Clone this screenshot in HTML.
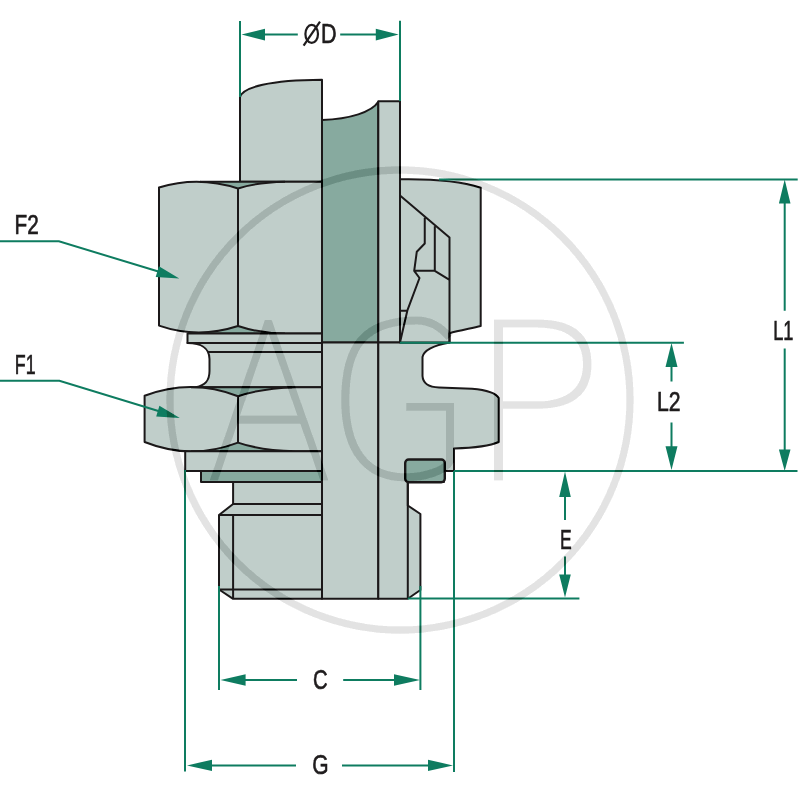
<!DOCTYPE html>
<html><head><meta charset="utf-8">
<style>
html,body{margin:0;padding:0;background:#fff;width:800px;height:800px;overflow:hidden}
svg{display:block}
text{font-family:"Liberation Sans",sans-serif;fill:#1f1c1d}
</style></head><body>
<svg width="800" height="800" viewBox="0 0 800 800">
<g stroke="#1b1819" stroke-width="2" stroke-linejoin="round" fill="#c0ceca">
 <!-- pipe -->
 <path d="M240,181.7 L240,97 C243,87 270,80 322,79.7 L322,181.7 Z"/>
 <path fill="#87aa9f" d="M322,120 C350,119 372,112 378.3,101.8 L378.3,342.5 L322,342.5 Z"/>
 <path d="M378.3,101.3 L400,101.3 L400,342.5 L378.3,342.5 Z"/>
 <!-- F2 nut left -->
 <path fill="#87aa9f" stroke="none" d="M205,181.7 L285,181.7 L238,189 Z M205,333.6 L285,333.6 L238,326 Z"/>
 <path d="M159,325.6 L159,187.5 Q198,175.5 238,188.5 C250,184.5 265,182.2 285,181.7 L322,181.7 L322,333.6 L285,333.6 C265,333.2 250,330 238,326 Q198,339 159,325.6 Z"/>
 <path fill="none" d="M238,188.5 L238,326 M200,181.7 L285,181.7 M200,333.6 L285,333.6"/>
 <!-- washer A + groove -->
 <path d="M187.5,333.6 L322,333.6 L322,343 L187.5,343 Z"/>
 <path d="M187.5,343 C199,343 209.5,347 209.5,359 L209.5,371 C209.5,381 205,385.5 196,387.2 L322,387.2 L322,343 Z"/>
 <path fill="none" d="M208,352.1 L322,352.1"/>
 <!-- F1 nut left -->
 <path fill="#87aa9f" stroke="none" d="M205,387.2 L295,387.2 L238,396.5 Z M205,451.3 L295,451.3 L238,442.5 Z"/>
 <path d="M144.6,442 L144.6,395.8 Q191,378 238,396.2 C252,391.5 270,388 295,387.2 L322,387.2 L322,451.3 L295,451.3 C270,450.6 252,447.5 238,442.6 Q191,460.5 144.6,442 Z"/>
 <path fill="none" d="M238,396.2 L238,442.6 M191,387.2 L292,387.2 M191,451.3 L292,451.3"/>
 <!-- washer B, plate, body, thread -->
 <path d="M185.2,451.3 L322,451.3 L322,471 L185.2,471 Z"/>
 <path fill="#87aa9f" d="M201,471 L322,471 L322,482 L201,482 Z"/>
 <path d="M233.1,482 L322,482 L322,504 L233.1,504 Z"/>
 <path d="M233.1,504 L219,515 L219,589.5 L233.1,598.8 L322,598.8 L322,504 Z"/>
 <path fill="none" d="M219,515 L322,515 M219,589.5 L322,589.5 M233.1,515 L233.1,598.8"/>
 <!-- center lower column -->
 <path d="M322,342.5 L378.3,342.5 L378.3,598.8 L322,598.8 Z"/>
 <!-- right lower body -->
 <path d="M378.3,342.5 L449.5,342.5 C436,345 424,349 422.5,357 L422.5,376 C423,384 430,387.2 439,387.5 L472,388.7 C487,390 496,393 498.7,398 L498.7,442 C490,446 472,448 454,448.5 L454,471 L444,471 L444,482 L407.8,482 L407.8,505.5 L420.4,514 L420.4,590 L407.8,598.8 L378.3,598.8 Z"/>
 <path fill="none" d="M407.8,482 L407.8,598.8"/>
 <!-- F2 right section -->
 <path d="M400,179.3 C430,178.8 460,181 480.7,187.7 L480.7,326 C470,328.5 458,331 449.5,333.2 L449.5,342.5 L400,342.5 Z"/>
 <path fill="none" d="M400,195.5 L449.5,237.5 L449.5,342.5 M424.75,217.7 L424.75,243.5 L416.8,251.7 L414.2,270.8 L419.5,278 L407.3,310.7 L400,342.5 M434.8,226.2 L434.8,270.8 L414.2,270.8 M434.8,270.8 L449.5,279.8 M400,310.7 L406.75,310.7"/>
 <!-- O-ring -->
 <rect x="405.2" y="459.5" width="39.6" height="22.7" rx="3.5" fill="#87aa9f" stroke-width="2.4"/>
</g>
<!-- dimensions -->
<g stroke="#0e7c60" stroke-width="2" fill="none">
 <path d="M240,21 L240,97 M400,20.8 L400,101 M262,34.6 L297.8,34.6 M340.2,34.6 L378,34.6"/>
 <path d="M439,179.5 L797.7,179.5 M454,471 L797.5,471 M784.7,200 L784.7,310.8 M784.7,348.4 L784.7,452"/>
 <path d="M400,342.75 L683.9,342.75 M671.5,365 L671.5,381.5 M671.5,422.6 L671.5,448"/>
 <path d="M407.8,598.5 L579.4,598.5 M565,495 L565,520 M565,556.4 L565,576"/>
 <path d="M219,586 L219,690 M420.4,586 L420.4,690 M243,680 L297,680 M343.2,680 L396,680"/>
 <path d="M185,470 L185,771.6 M454,471 L454,772 M210,765.4 L296,765.4 M342,765.4 L430,765.4"/>
 <path d="M0,241.3 L58.9,241.3 L160,272 M0,380.75 L59.4,380.75 L160,411.5"/>
</g>
<g fill="#0e7c60">
 <path d="M241.5,34.6 L265,28.8 L265,40.4 Z M398.7,34.6 L375.8,28.8 L375.8,40.4 Z"/>
 <path d="M784.7,179.5 L778.9,203.5 L790.5,203.5 Z M784.7,471 L778.9,449.6 L790.5,449.6 Z"/>
 <path d="M671.5,343 L665.5,367 L677.5,367 Z M671.5,470 L665.5,446.3 L677.5,446.3 Z"/>
 <path d="M565,471.5 L559.2,497 L570.8,497 Z M565,597.6 L559.2,574.4 L570.8,574.4 Z"/>
 <path d="M220.5,680 L245.6,674.2 L245.6,685.8 Z M420,680 L394,674.2 L394,685.8 Z"/>
 <path d="M187,765.4 L212,759.7 L212,771.1 Z M453,765.4 L428,759.7 L428,771.1 Z"/>
 <path d="M179.3,278.4 L155.7,276.9 L158.9,266.3 Z M179.8,417.9 L156.2,416.4 L159.4,405.8 Z"/>
</g>
<g font-size="100" stroke="#1f1c1d" stroke-width="2.4" opacity="0.999">
 <text transform="translate(321.03,43.07) scale(0.2165,0.2717)">D</text>
 <text transform="translate(773.16,340.17) scale(0.1824,0.2759)">L1</text>
 <text transform="translate(657.06,411.18) scale(0.2122,0.2693)">L2</text>
 <text transform="translate(560.00,548.57) scale(0.1757,0.2787)">E</text>
 <text transform="translate(312.98,689.39) scale(0.2026,0.2793)">C</text>
 <text transform="translate(312.20,774.14) scale(0.2099,0.2759)">G</text>
 <text transform="translate(14.59,234.41) scale(0.2077,0.2797)">F2</text>
 <text transform="translate(14.79,373.66) scale(0.1786,0.2801)">F1</text>
</g>
<g fill="none" stroke="#1f1c1d" stroke-width="2.2">
 <ellipse cx="311.7" cy="33.9" rx="6.3" ry="9.0"/>
 <path d="M303.6,45.6 L320,21.6"/>
</g>
<!-- watermark -->
<defs><filter id="bl" x="-5%" y="-5%" width="110%" height="110%"><feGaussianBlur stdDeviation="0.45"/></filter></defs>
<g style="mix-blend-mode:difference" filter="url(#bl)">
 <circle cx="400" cy="400" r="230" fill="none" stroke="#1b1b1b" stroke-width="7.3"/>
 <path fill="#1b1b1b" d="M264.75,320 L271.7,320 L328.5,480.5 L320.3,480.5 L268.3,333.1 L217.9,480.5 L209.7,480.5 Z"/>
 <path fill="#1b1b1b" d="M238.5,415.6 L301,415.6 L301,423.7 L238.5,423.7 Z"/>
 <path fill="#1b1b1b" fill-rule="evenodd" d="M494,319.5 L537,319.5 C576,319.5 591.5,336 591.5,364 C591.5,392 576,408.7 537,408.7 L503,408.7 L503,480.5 L494,480.5 Z M503,327.5 L537,327.5 C569,327.5 583,341 583,364 C583,387 569,401.3 537,401.3 L503,401.3 Z"/>
 <path fill="none" stroke="#1b1b1b" stroke-width="8.2" d="M449.5,337.5 C441,327 430,320.5 417,320.5 C365,320.5 345.3,345 345.3,400 C345.3,448 365,477.3 405,477.3 C425,477.3 445,471 450,461 L450,403"/>
 <path fill="#1b1b1b" d="M406.25,403 L454,403 L454,410.75 L406.25,410.75 Z"/>
</g>
</svg>
</body></html>
